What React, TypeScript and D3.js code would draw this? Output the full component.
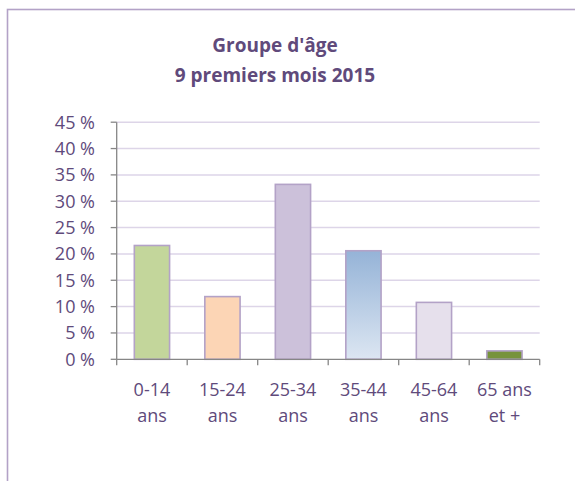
import React from "react";
import * as d3 from "d3";

const categories = ["0-14 ans", "15-24 ans", "25-34 ans", "35-44 ans", "45-64 ans", "65 ans et +"];
const labelLines = [["0-14", "ans"], ["15-24", "ans"], ["25-34", "ans"], ["35-44", "ans"], ["45-64", "ans"], ["65 ans", "et +"]];
const values = [0.216, 0.119, 0.332, 0.206, 0.108, 0.016];
const barFills = ["#c3d69b", "#fcd5b5", "#ccc1da", "url(#blueGrad)", "#e6e0ec", "#77933c"];
const yTicks = [0, 0.05, 0.1, 0.15, 0.2, 0.25, 0.3, 0.35, 0.4, 0.45];
const titleLines = ["Groupe d'âge", "9 premiers mois 2015"];

export default function App() {
  const W = 575, H = 481;
  const x0 = 116.7, x1 = 539.7;
  const x = d3.scaleBand<string>().domain(categories).range([x0, x1]).paddingInner(0.5).paddingOuter(0.25);
  const y = d3.scaleLinear().domain([0, 0.45]).range([359.3, 122.2]);
  const step = x.step();
  const textColor = "#604a7b";
  const font = "'Open Sans', sans-serif";
  const fmt = (v: number) => `${Math.round(v * 100)} %`;
  return (
    <svg width={W} height={H} style={{ position: "absolute", left: 0, top: 0, background: "#fff" }}>
      <defs>
        <linearGradient id="blueGrad" x1="0" y1="0" x2="0" y2="1">
          <stop offset="0" stopColor="#95b3d7" />
          <stop offset="1" stopColor="#dce6f2" />
        </linearGradient>
      </defs>
      <rect x={0} y={0} width={W} height={H} fill="#fff" />
      <rect x={7.5} y={9.5} width={W + 20} height={H + 20} fill="none" stroke="#b3a2c7" strokeWidth={1.6} />
      {titleLines.map((t, i) => (
        <text key={t} x={275} y={51.5 + i * 30} textAnchor="middle" fill={textColor} fontFamily={font} fontWeight="bold" fontSize={19}>
          {t}
        </text>
      ))}
      {yTicks.map((t) => (
        <g key={t}>
          {t > 0 && <line x1={x0} x2={x1} y1={y(t)} y2={y(t)} stroke="#ddd5e8" strokeWidth={1.5} />}
          <line x1={x0 - 6} x2={x0} y1={y(t)} y2={y(t)} stroke="#868686" strokeWidth={1.3} />
          <text x={95} y={y(t) + 6.3} textAnchor="end" fill={textColor} fontFamily={font} fontSize={18}>
            {fmt(t)}
          </text>
        </g>
      ))}
      {categories.map((c, i) => (
        <rect
          key={c}
          x={x(c)!}
          y={y(values[i])}
          width={x.bandwidth()}
          height={y(0) - y(values[i])}
          fill={barFills[i]}
          stroke="#b3a2c7"
          strokeWidth={1.6}
        />
      ))}
      <line x1={x0} x2={x0} y1={y(0.45)} y2={y(0)} stroke="#868686" strokeWidth={1.3} />
      <line x1={x0} x2={x1} y1={y(0)} y2={y(0)} stroke="#868686" strokeWidth={1.3} />
      {d3.range(categories.length + 1).map((i) => (
        <line key={i} x1={x0 + i * step} x2={x0 + i * step} y1={y(0)} y2={y(0) + 6} stroke="#868686" strokeWidth={1.3} />
      ))}
      {categories.map((c, i) => (
        <text key={c} textAnchor="middle" fill={textColor} fontFamily={font} fontSize={18}>
          {labelLines[i].map((l, j) => (
            <tspan key={j} x={x(c)! + x.bandwidth() / 2} y={396 + j * 25.5}>
              {l}
            </tspan>
          ))}
        </text>
      ))}
    </svg>
  );
}
